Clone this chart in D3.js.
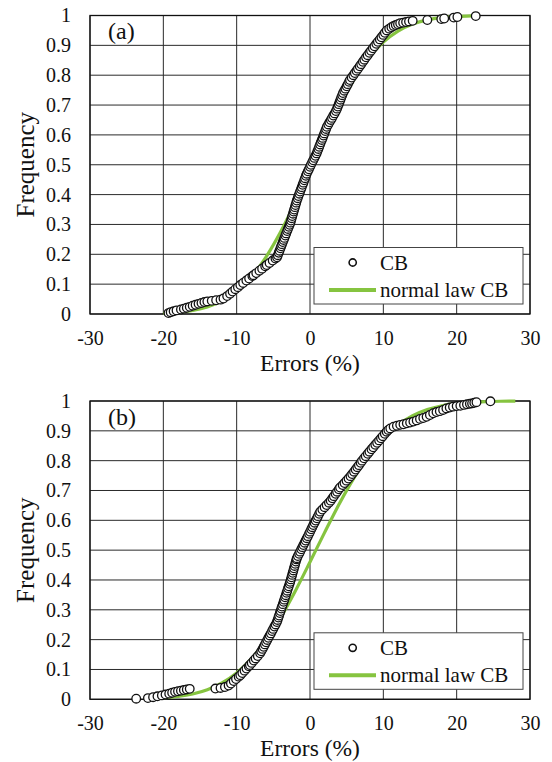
<!DOCTYPE html>
<html>
<head>
<meta charset="utf-8">
<script src="https://cdn.jsdelivr.net/npm/d3@7"></script>
<style>
  body { margin: 0; background: #fff; }
  svg { display: block; }
  text { font-family: "Liberation Serif", "Times New Roman", serif; fill: #111; }
</style>
</head>
<body>
<svg id="chart" width="552" height="762"></svg>
<script>
// Axis ticks
const xTicks = [-30, -20, -10, 0, 10, 20, 30];
const yTicks = [0, 0.1, 0.2, 0.3, 0.4, 0.5, 0.6, 0.7, 0.8, 0.9, 1];
const yTickLabels = ["0", "0.1", "0.2", "0.3", "0.4", "0.5", "0.6", "0.7", "0.8", "0.9", "1"];
const seriesNames = ["CB", "normal law CB"];
const panelLabels = ["(a)", "(b)"];
const xTitle = "Errors (%)";
const yTitle = "Frequency";

// Panel (a): cumulative frequency of errors (CB)
const errA = [-19.3, -19.0, -18.6, -18.2, -17.6, -17.2, -16.8, -16.4, -16.0, -15.6, -15.2, -14.8, -14.4, -14.0, -13.4, -12.8, -12.2, -11.8, -11.3, -10.9,
  -10.56, -10.19, -9.83, -9.5, -9.12, -8.68, -8.3, -7.86, -7.7, -7.33, -6.9, -6.53, -6.11, -5.9, -5.52, -5.09, -4.71, -4.5,
  -4.39, -4.27, -4.16, -4.03, -3.93, -3.82, -3.71, -3.6, -3.49, -3.36, -3.25, -3.12, -3.01, -2.89, -2.78, -2.67,
  -2.59, -2.50, -2.42, -2.32, -2.24, -2.16, -2.06, -1.98, -1.88, -1.8, -1.68, -1.58, -1.46, -1.35, -1.23, -1.13, -1.01, -0.9,
  -0.78, -0.68, -0.56, -0.45, -0.29, -0.15, 0.0, 0.13, 0.30, 0.44, 0.60, 0.74, 0.9, 1.01, 1.14, 1.25, 1.37, 1.48, 1.61, 1.72,
  1.84, 1.95, 2.08, 2.19, 2.3, 2.49, 2.65, 2.84, 3.0, 3.18, 3.35, 3.53, 3.68, 3.79, 3.92, 4.03, 4.15, 4.26, 4.39, 4.5,
  4.67, 4.83, 5.0, 5.15, 5.32, 5.45, 5.68, 5.91, 6.11, 6.34, 6.54, 6.78, 6.98, 7.21, 7.41, 7.64, 7.86, 8.1, 8.32, 8.57,
  8.79, 9.04, 9.26, 9.52, 9.74, 9.99, 10.21, 10.47, 10.8, 11.1, 11.4, 11.7, 12.0, 12.3, 12.7, 13.1, 13.5, 14.0,
  16.0, 17.9, 18.3, 19.6, 20.1, 22.6];
const freqA = [0.003, 0.006, 0.009, 0.012, 0.015, 0.018, 0.021, 0.024, 0.028, 0.031, 0.034, 0.037, 0.040, 0.042, 0.044, 0.046, 0.048, 0.052, 0.060, 0.068,
  0.075, 0.083, 0.090, 0.097, 0.104, 0.112, 0.119, 0.127, 0.130, 0.137, 0.145, 0.152, 0.160, 0.164, 0.171, 0.179, 0.186, 0.190,
  0.197, 0.205, 0.212, 0.220, 0.227, 0.234, 0.241, 0.248, 0.255, 0.263, 0.270, 0.278, 0.285, 0.292, 0.299, 0.306,
  0.313, 0.321, 0.328, 0.336, 0.343, 0.350, 0.358, 0.365, 0.373, 0.380, 0.388, 0.395, 0.403, 0.410, 0.418, 0.425, 0.433, 0.440,
  0.448, 0.455, 0.463, 0.470, 0.478, 0.485, 0.493, 0.500, 0.508, 0.515, 0.523, 0.530, 0.538, 0.545, 0.553, 0.560, 0.568, 0.575, 0.583, 0.590,
  0.598, 0.605, 0.613, 0.620, 0.627, 0.635, 0.642, 0.650, 0.657, 0.665, 0.672, 0.680, 0.688, 0.695, 0.703, 0.710, 0.718, 0.725, 0.733, 0.740,
  0.748, 0.755, 0.763, 0.770, 0.778, 0.784, 0.792, 0.800, 0.807, 0.815, 0.822, 0.830, 0.837, 0.845, 0.852, 0.860, 0.867, 0.875, 0.882, 0.890,
  0.897, 0.905, 0.912, 0.920, 0.927, 0.935, 0.942, 0.950, 0.956, 0.961, 0.965, 0.968, 0.971, 0.974, 0.976, 0.978, 0.980, 0.982,
  0.985, 0.988, 0.990, 0.993, 0.995, 0.998];
// Panel (a): fitted normal law
const normErrA = [-20, -18, -16, -14, -12, -10, -8, -6, -4, -2, 0, 2, 4, 6, 8, 10, 12, 14, 16, 18, 20, 22, 23];
const normFreqA = [0.0024, 0.0055, 0.0118, 0.0235, 0.0438, 0.0762, 0.1245, 0.1908, 0.2752, 0.3748, 0.4834, 0.5933, 0.6964, 0.7858,
  0.8575, 0.9110, 0.9479, 0.9715, 0.9854, 0.9930, 0.9969, 0.9987, 0.9992];

// Panel (b): cumulative frequency of errors (CB)
const errB = [-23.7, -22.1, -21.4, -20.8, -20.2, -19.7, -19.2, -18.8, -18.4, -18.0, -17.6, -17.2, -16.8, -16.4, -12.9, -12.2, -11.6, -11.1,
  -10.78, -10.41, -10.09, -9.73, -9.5, -9.23, -8.93, -8.66, -8.35, -8.2, -7.95, -7.66, -7.41, -7.12, -6.8, -6.65, -6.47, -6.32, -6.15, -5.99,
  -5.82, -5.67, -5.5, -5.34, -5.17, -5.02, -4.85, -4.69, -4.52, -4.42, -4.31, -4.22, -4.11, -4.02, -3.91, -3.82, -3.71, -3.6,
  -3.51, -3.40, -3.30, -3.20, -3.10, -3.0, -2.90, -2.79, -2.7, -2.61, -2.53, -2.44, -2.36, -2.27, -2.19, -2.10, -2.02, -1.93, -1.85, -1.8,
  -1.66, -1.49, -1.35, -1.19, -1.04, -0.9, -0.74, -0.6, -0.44, -0.29, -0.13, 0.01, 0.17, 0.31, 0.45, 0.62, 0.77, 0.94, 1.08, 1.25, 1.4,
  1.68, 1.99, 2.27, 2.58, 2.82, 3.05, 3.25, 3.49, 3.69, 3.93, 4.1, 4.45, 4.7, 4.98, 5.25, 5.52, 5.75, 6.0, 6.22, 6.45, 6.67, 6.9, 7.1,
  7.37, 7.6, 7.88, 8.1, 8.38, 8.62, 8.9, 9.15, 9.42, 9.68, 9.92, 10.2, 10.45, 10.68, 10.95, 11.4, 11.85, 12.3, 12.75, 13.2, 13.65,
  14.1, 14.55, 15.0, 15.45, 15.9, 16.35, 16.8, 17.25, 17.7, 18.15, 18.6, 19.05, 19.5, 20.0, 20.5, 21.0, 21.4, 21.8, 22.1, 22.4, 22.7, 24.6];
const freqB = [0.002, 0.004, 0.007, 0.010, 0.013, 0.016, 0.019, 0.022, 0.025, 0.027, 0.029, 0.031, 0.033, 0.035, 0.036, 0.038, 0.041, 0.046,
  0.053, 0.061, 0.068, 0.076, 0.081, 0.088, 0.096, 0.103, 0.111, 0.115, 0.122, 0.130, 0.137, 0.145, 0.154, 0.161, 0.169, 0.176, 0.184, 0.191,
  0.199, 0.206, 0.214, 0.221, 0.229, 0.236, 0.244, 0.251, 0.259, 0.266, 0.274, 0.281, 0.289, 0.296, 0.304, 0.311, 0.319, 0.327,
  0.334, 0.342, 0.349, 0.357, 0.364, 0.372, 0.379, 0.387, 0.394, 0.402, 0.409, 0.417, 0.424, 0.432, 0.439, 0.447, 0.454, 0.462, 0.469, 0.473,
  0.480, 0.488, 0.495, 0.503, 0.510, 0.517, 0.525, 0.532, 0.540, 0.547, 0.555, 0.562, 0.570, 0.577, 0.584, 0.592, 0.599, 0.607, 0.614, 0.622, 0.629,
  0.636, 0.644, 0.651, 0.659, 0.666, 0.674, 0.681, 0.689, 0.696, 0.704, 0.710, 0.718, 0.725, 0.733, 0.740, 0.748, 0.755, 0.763, 0.770, 0.778, 0.785, 0.793, 0.800,
  0.808, 0.815, 0.823, 0.830, 0.838, 0.845, 0.853, 0.860, 0.868, 0.875, 0.882, 0.890, 0.897, 0.903, 0.908, 0.914, 0.917, 0.920, 0.922, 0.925, 0.928,
  0.931, 0.935, 0.940, 0.943, 0.947, 0.953, 0.959, 0.963, 0.966, 0.970, 0.975, 0.978, 0.981, 0.983, 0.984, 0.987, 0.989, 0.991, 0.992, 0.994, 0.996, 0.999];
// Panel (b): fitted normal law
const normErrB = [-20, -18, -16, -14, -12, -10, -8, -6, -4, -2, 0, 2, 4, 6, 8, 10, 12, 14, 16, 18, 20, 22, 24, 26, 28];
const normFreqB = [0.0047, 0.0094, 0.0179, 0.0322, 0.0548, 0.0885, 0.1357, 0.1977, 0.2743, 0.3632, 0.4602, 0.5596, 0.6554, 0.7422,
  0.8159, 0.8749, 0.9192, 0.9505, 0.9713, 0.9842, 0.9918, 0.9960, 0.9981, 0.9992, 0.9997];

const GREEN = "#86c440";
const FONT = "'Liberation Serif', 'Times New Roman', serif";
const svg = d3.select("#chart");
const left = 90, right = 530;
const x = d3.scaleLinear().domain([-30, 30]).range([left, right]);

function drawPanel(top, bottom, label, errs, freqs, nErr, nFreq) {
  const y = d3.scaleLinear().domain([0, 1]).range([bottom, top]);
  const g = svg.append("g");

  // grid
  g.append("g").selectAll("line").data(xTicks).join("line")
    .attr("x1", d => x(d)).attr("x2", d => x(d))
    .attr("y1", top).attr("y2", bottom)
    .attr("stroke", "#2a2a2a").attr("stroke-width", 1);
  g.append("g").selectAll("line").data(yTicks).join("line")
    .attr("x1", left).attr("x2", right)
    .attr("y1", d => y(d)).attr("y2", d => y(d))
    .attr("stroke", "#2a2a2a").attr("stroke-width", 1);
  g.append("rect").attr("x", left).attr("y", top)
    .attr("width", right - left).attr("height", bottom - top)
    .attr("fill", "none").attr("stroke", "#111").attr("stroke-width", 1.3);

  // axes (labels only)
  const ya = g.append("g").attr("transform", `translate(${left},0)`)
    .call(d3.axisLeft(y).tickValues(yTicks).tickSize(0).tickPadding(19)
      .tickFormat((d, i) => yTickLabels[i]));
  const xa = g.append("g").attr("transform", `translate(0,${bottom})`)
    .call(d3.axisBottom(x).tickValues(xTicks).tickSize(0).tickPadding(17)
      .tickFormat(d => String(d)));
  [ya, xa].forEach(a => {
    a.select(".domain").remove();
    a.selectAll("text").style("font-family", FONT)
      .attr("font-size", 20).attr("fill", "#111");
  });

  // normal law line
  const line = d3.line().x((d, i) => x(nErr[i])).y((d, i) => y(nFreq[i])).curve(d3.curveMonotoneX);
  g.append("path").datum(nErr).attr("d", line)
    .attr("fill", "none").attr("stroke", GREEN).attr("stroke-width", 3.2);

  // data points
  g.append("g").selectAll("circle").data(errs).join("circle")
    .attr("cx", d => x(d)).attr("cy", (d, i) => y(freqs[i]))
    .attr("r", 4.3).attr("fill", "#fff").attr("stroke", "#111").attr("stroke-width", 1.3);

  // panel label
  g.append("text").attr("x", 108).attr("y", top + 23.5)
    .style("font-family", FONT).attr("font-size", 24).text(label);

  // axis titles
  g.append("text").attr("transform", `translate(34,${(top + bottom) / 2}) rotate(-90)`)
    .style("font-family", FONT).attr("text-anchor", "middle").attr("font-size", 25).text(yTitle);
  g.append("text").attr("x", (left + right) / 2).attr("y", bottom + 56.5)
    .style("font-family", FONT).attr("text-anchor", "middle").attr("font-size", 23.5).text(xTitle);

  // legend
  const lg = g.append("g").attr("transform", `translate(314,${bottom - 66.5})`);
  lg.append("rect").attr("width", 209).attr("height", 56.5)
    .attr("fill", "#fff").attr("stroke", "#444").attr("stroke-width", 1);
  lg.append("circle").attr("cx", 38.7).attr("cy", 15)
    .attr("r", 3.6).attr("fill", "#fff").attr("stroke", "#111").attr("stroke-width", 1.6);
  lg.append("text").attr("x", 66).attr("y", 22).style("font-family", FONT)
    .attr("font-size", 21).text(seriesNames[0]);
  lg.append("line").attr("x1", 15).attr("x2", 62).attr("y1", 42.5).attr("y2", 42.5)
    .attr("stroke", GREEN).attr("stroke-width", 4);
  lg.append("text").attr("x", 66).attr("y", 49).style("font-family", FONT)
    .attr("font-size", 21).text(seriesNames[1]);
}

drawPanel(15.5, 314, panelLabels[0], errA, freqA, normErrA, normFreqA);
drawPanel(401, 699.3, panelLabels[1], errB, freqB, normErrB, normFreqB);
</script>
</body>
</html>
